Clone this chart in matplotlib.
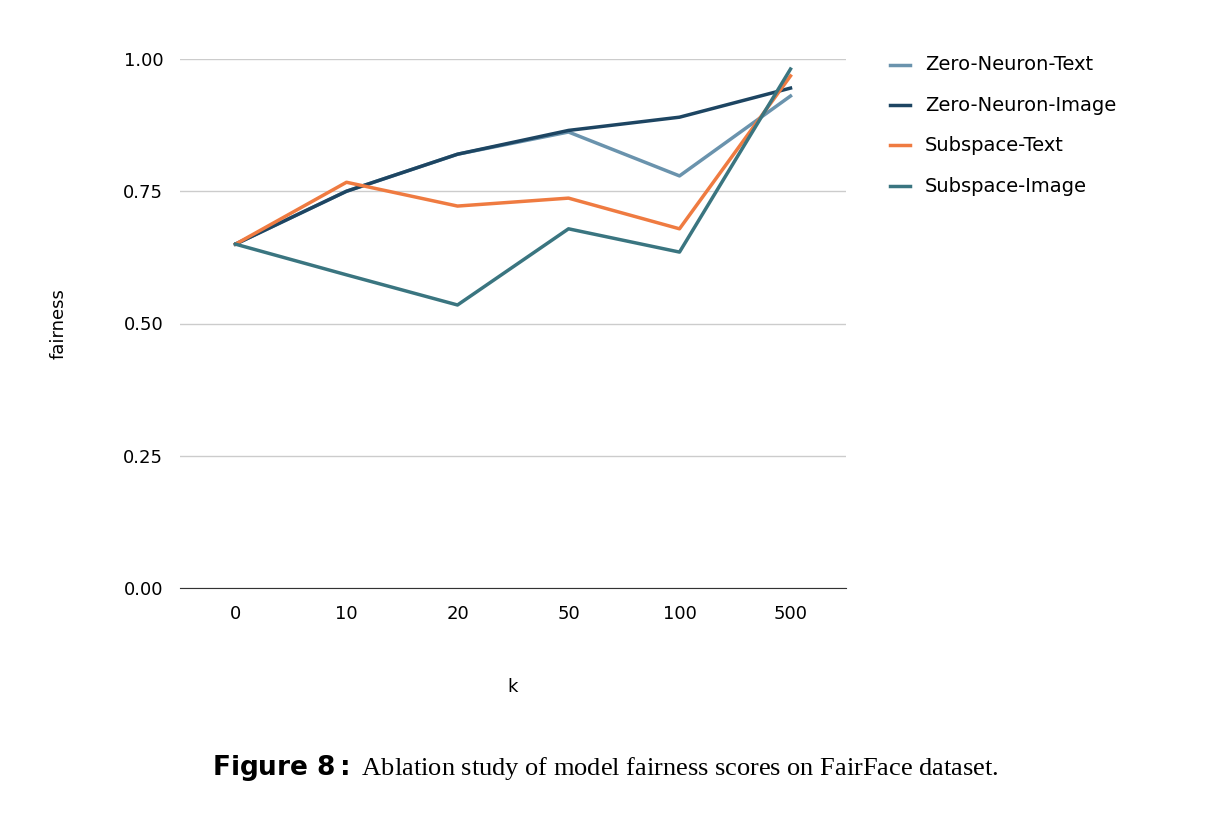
import matplotlib.pyplot as plt

# data
k_labels = ['0', '10', '20', '50', '100', '500']
zero_neuron_text = [0.65, 0.75, 0.82, 0.862, 0.779, 0.93]
zero_neuron_image = [0.65, 0.75, 0.82, 0.865, 0.89, 0.945]
subspace_text = [0.65, 0.767, 0.722, 0.737, 0.679, 0.968]
subspace_image = [0.65, 0.592, 0.535, 0.679, 0.635, 0.981]

fig = plt.figure(figsize=(12.1, 8.24), dpi=100)
ax = fig.add_axes([180/1210, 1-588/824, 666/1210, 529/824])

x = range(len(k_labels))
ax.plot(x, zero_neuron_text, color='#6a93ad', lw=2.5, label='Zero-Neuron-Text')
ax.plot(x, zero_neuron_image, color='#1d4562', lw=2.5, label='Zero-Neuron-Image')
ax.plot(x, subspace_text, color='#ef7b41', lw=2.5, label='Subspace-Text')
ax.plot(x, subspace_image, color='#3a7580', lw=2.5, label='Subspace-Image')

ax.set_xlim(-0.5, 5.5)
ax.set_ylim(0, 1.0)
ax.set_yticks([0, 0.25, 0.5, 0.75, 1.0])
ax.set_yticklabels(['0.00', '0.25', '0.50', '0.75', '1.00'])
ax.set_xticks(list(x))
ax.set_xticklabels(k_labels)
ax.grid(axis='y', color='#cccccc', lw=1)
ax.set_axisbelow(True)
for s in ['top', 'right', 'left']:
    ax.spines[s].set_visible(False)
ax.spines['bottom'].set_color('#333333')
ax.tick_params(length=0, labelsize=13, pad=12)
ax.set_xlabel('k', fontsize=13, labelpad=40)
ax.set_ylabel('fairness', fontsize=13, labelpad=40)

ax.legend(loc='upper left', bbox_to_anchor=(1.04, 1.04), frameon=False,
          fontsize=14, handlelength=1.0, handleheight=0.3, labelspacing=1.1)

fig.text(0.5, 1-768/824, r'$\bf{Figure\ 8{:}}$ Ablation study of model fairness scores on FairFace dataset.',
         ha='center', va='center', fontsize=19, family='Liberation Serif')
plt.rcParams['mathtext.fontset'] = 'custom'
plt.rcParams['mathtext.bf'] = 'Liberation Serif:bold'
plt.rcParams['mathtext.rm'] = 'Liberation Serif'

fig.savefig('out.png', dpi=100)
